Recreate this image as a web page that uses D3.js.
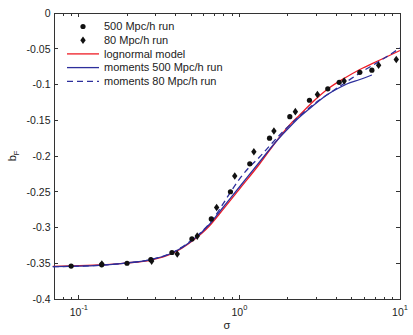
<!DOCTYPE html>
<html>
<head>
<meta charset="utf-8">
<script src="https://cdn.jsdelivr.net/npm/d3@7"></script>
<style>
   body { margin: 0; background: #fff; }
   svg { display: block; font-family: "Liberation Sans", Arial, sans-serif; }
</style>
</head>
<body>
<div id="chart"></div>
<script>
"use strict";

// simulation points
const sigma500 = [0.0895, 0.1387, 0.1995, 0.2806, 0.380, 0.506, 0.668, 0.879, 1.16, 1.54, 2.06, 2.73, 3.55, 4.18, 5.62, 6.68];
const bF500 = [-0.354, -0.352, -0.350, -0.345, -0.335, -0.316, -0.288, -0.250, -0.211, -0.175, -0.145, -0.122, -0.106, -0.097, -0.083, -0.080];

const sigma80 = [0.139, 0.284, 0.41, 0.546, 0.721, 0.935, 1.23, 1.64, 2.23, 3.06, 4.49, 7.36, 9.48];
const bF80 = [-0.351, -0.347, -0.337, -0.312, -0.272, -0.228, -0.194, -0.165, -0.138, -0.114, -0.095, -0.073, -0.065];

// curves
const sigmaModel = [0.0688, 0.0891, 0.1334, 0.1966, 0.2818, 0.3814, 0.5083, 0.6494, 0.7499, 1.0, 1.334, 1.703, 2.054, 2.371, 2.859, 3.548, 4.531, 5.623, 7.499, 10];
const bFModel = [-0.3543, -0.3538, -0.3524, -0.3497, -0.3455, -0.3364, -0.3189, -0.2979, -0.2811, -0.2462, -0.2112, -0.1790, -0.1566, -0.1427, -0.1245, -0.1063, -0.0909, -0.0790, -0.0657, -0.0524];

const sigmaMom500 = [0.0688, 0.1334, 0.1966, 0.2818, 0.3814, 0.5083, 0.6494, 0.7499, 1.0, 1.334, 1.703, 2.054, 2.371, 2.859, 3.498, 4.097, 4.663, 5.623, 6.683];
const bFMom500 = [-0.3548, -0.3529, -0.3497, -0.3448, -0.3357, -0.3182, -0.2958, -0.2783, -0.2434, -0.2084, -0.1790, -0.1594, -0.1455, -0.1301, -0.1147, -0.1056, -0.0993, -0.0930, -0.0867];

const sigmaMom80 = [0.0688, 0.1334, 0.1966, 0.2818, 0.3814, 0.4870, 0.5623, 0.6780, 0.7830, 0.8660, 1.0, 1.155, 1.334, 1.540, 1.857, 2.371, 2.943, 3.652, 4.531, 5.623, 7.499, 10];
const bFMom80 = [-0.3548, -0.3529, -0.3497, -0.3448, -0.3350, -0.3203, -0.3091, -0.2895, -0.2685, -0.2531, -0.2322, -0.2154, -0.2014, -0.1860, -0.1664, -0.1441, -0.1266, -0.1119, -0.0979, -0.0839, -0.0671, -0.0490];

const legendLabels = ["500 Mpc/h run", "80 Mpc/h run", "lognormal model", "moments 500 Mpc/h run", "moments 80 Mpc/h run"];
const yTicks = [0, -0.05, -0.1, -0.15, -0.2, -0.25, -0.3, -0.35, -0.4];
const xDecades = [0.1, 1, 10];
const xDecadeExp = ["-1", "0", "1"];

const width = 413;
const height = 335;
const margin = { top: 13, right: 13, bottom: 36, left: 54 };
const red = "#ee1c25";
const blue = "#2d2f9c";

const zip = (xs, ys) => xs.map((x, i) => [x, ys[i]]);

const svg = d3.select("#chart").append("svg")
   .attr("width", width)
   .attr("height", height);

const x = d3.scaleLog()
   .domain([0.07, 10])
   .range([margin.left, width - margin.right]);

const y = d3.scaleLinear()
   .domain([-0.4, 0])
   .range([height - margin.bottom, margin.top]);

const x0 = x.range()[0], x1 = x.range()[1];
const y0 = y.range()[0], y1 = y.range()[1];

// minor ticks: every integer multiple inside each decade
const minorTicks = [];
for (const dec of [0.01, 0.1, 1]) {
   for (let k = 1; k <= 9; k++) {
      const v = +(k * dec).toPrecision(3);
      if (v >= 0.07 && v <= 10 && !xDecades.includes(v)) minorTicks.push(v);
   }
}

const axes = svg.append("g")
   .attr("stroke", "#333")
   .attr("stroke-width", 1)
   .attr("shape-rendering", "crispEdges");

axes.append("rect")
   .attr("x", x0)
   .attr("y", y1)
   .attr("width", x1 - x0)
   .attr("height", y0 - y1)
   .attr("fill", "none");

// x ticks top and bottom, pointing in
for (const v of minorTicks) {
   axes.append("line").attr("x1", x(v)).attr("x2", x(v)).attr("y1", y0).attr("y2", y0 - 2.5);
   axes.append("line").attr("x1", x(v)).attr("x2", x(v)).attr("y1", y1).attr("y2", y1 + 2.5);
}
for (const v of xDecades) {
   axes.append("line").attr("x1", x(v)).attr("x2", x(v)).attr("y1", y0).attr("y2", y0 - 4);
   axes.append("line").attr("x1", x(v)).attr("x2", x(v)).attr("y1", y1).attr("y2", y1 + 4);
}

// y ticks left and right
for (const v of yTicks) {
   axes.append("line").attr("x1", x0).attr("x2", x0 + 4).attr("y1", y(v)).attr("y2", y(v));
   axes.append("line").attr("x1", x1).attr("x2", x1 - 4).attr("y1", y(v)).attr("y2", y(v));
}

svg.append("g")
   .selectAll("text")
   .data(yTicks)
   .join("text")
   .attr("x", x0 - 3.5)
   .attr("y", d => y(d))
   .attr("dy", "0.36em")
   .attr("text-anchor", "end")
   .attr("font-size", 10.5)
   .attr("fill", "#222")
   .text(d => d === 0 ? "0" : String(+d.toFixed(2)));

const xLabels = svg.append("g")
   .selectAll("text")
   .data(xDecades)
   .join("text")
   .attr("x", d => x(d))
   .attr("y", 316)
   .attr("text-anchor", "middle")
   .attr("font-size", 10.5)
   .attr("fill", "#222");
xLabels.append("tspan").text("10");
xLabels.append("tspan")
   .attr("dy", -6)
   .attr("font-size", 7.5)
   .text((d, i) => xDecadeExp[i]);

svg.append("text")
   .attr("x", (x0 + x1) / 2)
   .attr("y", 329)
   .attr("text-anchor", "middle")
   .attr("font-size", 11)
   .attr("fill", "#222")
   .text("σ");

const yLabel = svg.append("text")
   .attr("transform", `translate(16,${(y0 + y1) / 2}) rotate(-90)`)
   .attr("text-anchor", "middle")
   .attr("font-size", 11)
   .attr("fill", "#222");
yLabel.append("tspan").text("b");
yLabel.append("tspan").attr("dy", 3).attr("font-size", 7.5).text("F");

// curves
const line = d3.line()
   .x(d => x(d[0]))
   .y(d => y(d[1]))
   .curve(d3.curveMonotoneX);

const plot = svg.append("g").attr("fill", "none").attr("stroke-width", 1.3);

plot.append("path")
   .attr("d", line(zip(sigmaModel, bFModel)))
   .attr("stroke", red);

plot.append("path")
   .attr("d", line(zip(sigmaMom500, bFMom500)))
   .attr("stroke", blue);

plot.append("path")
   .attr("d", line(zip(sigmaMom80, bFMom80)))
   .attr("stroke", blue)
   .attr("stroke-dasharray", "6,4");

// markers
const diamond = "M0,-3.8L2.7,0L0,3.8L-2.7,0Z";

svg.append("g")
   .selectAll("circle")
   .data(zip(sigma500, bF500))
   .join("circle")
   .attr("cx", d => x(d[0]))
   .attr("cy", d => y(d[1]))
   .attr("r", 2.6)
   .attr("fill", "#111");

svg.append("g")
   .selectAll("path")
   .data(zip(sigma80, bF80))
   .join("path")
   .attr("transform", d => `translate(${x(d[0])},${y(d[1])})`)
   .attr("d", diamond)
   .attr("fill", "#111");

// legend
const legend = svg.append("g").attr("font-size", 11).attr("fill", "#222");
const rowY = i => 26.5 + i * 13.7;
const sampleX0 = 67, sampleX1 = 99, textX = 104;

legendLabels.forEach((label, i) => {
   const ry = rowY(i);
   if (i === 0) {
      legend.append("circle").attr("cx", (sampleX0 + sampleX1) / 2).attr("cy", ry).attr("r", 2.6).attr("fill", "#111");
   } else if (i === 1) {
      legend.append("path").attr("d", diamond)
         .attr("transform", `translate(${(sampleX0 + sampleX1) / 2},${ry})`)
         .attr("fill", "#111");
   } else {
      legend.append("line")
         .attr("x1", sampleX0).attr("x2", sampleX1)
         .attr("y1", ry).attr("y2", ry)
         .attr("stroke", i === 2 ? red : blue)
         .attr("stroke-width", 1.3)
         .attr("stroke-dasharray", i === 4 ? "6,4" : null);
   }
   legend.append("text")
      .attr("x", textX)
      .attr("y", ry)
      .attr("dy", "0.35em")
      .text(label);
});
</script>
</body>
</html>
